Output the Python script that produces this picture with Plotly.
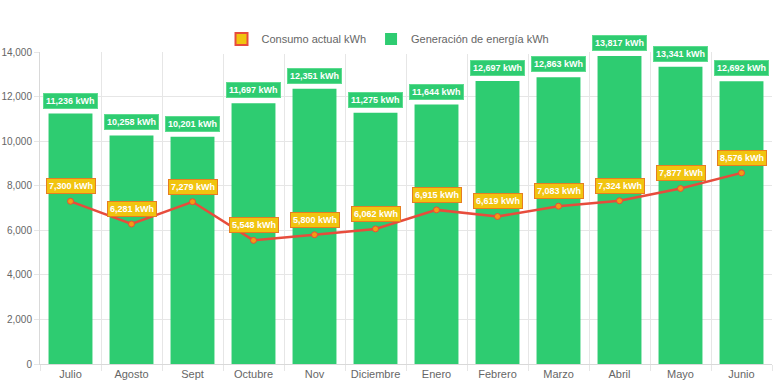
import plotly.graph_objects as go

months = ["Julio", "Agosto", "Sept", "Octubre", "Nov", "Diciembre", "Enero",
          "Febrero", "Marzo", "Abril", "Mayo", "Junio"]
generacion = [11236, 10258, 10201, 11697, 12351, 11275, 11644, 12697, 12863, 13817, 13341, 12692]
consumo = [7300, 6281, 7279, 5548, 5800, 6062, 6915, 6619, 7083, 7324, 7877, 8576]
y_ticks = [0, 2000, 4000, 6000, 8000, 10000, 12000, 14000]

GREEN = "#2ecc71"
YELLOW = "#f1c40f"
RED = "#e74c3c"
FONT = "Liberation Sans, Arial, sans-serif"
LABEL_FONT = "Liberation Sans Narrow, Liberation Sans, Arial, sans-serif"

fig = go.Figure()

# legend-only proxy for consumo box style
fig.add_trace(go.Bar(x=[None], y=[None], name="Consumo actual kWh",
                     marker=dict(color=YELLOW, line=dict(color=RED, width=2)),
                     showlegend=True, hoverinfo="skip"))
fig.add_trace(go.Bar(x=months, y=generacion, name="Generación de energía kWh",
                     marker=dict(color=GREEN, line=dict(color=GREEN, width=0))))
fig.add_trace(go.Scatter(x=months, y=consumo, mode="lines+markers", name="Consumo actual kWh",
                         showlegend=False,
                         line=dict(color=RED, width=2.5),
                         marker=dict(size=6, color="#f39c12", line=dict(color=RED, width=1))))

annotations = []
for m, v in zip(months, generacion):
    annotations.append(dict(x=m, y=v, xref="x", yref="y", text=f"<b>{v:,} kWh</b>",
                            showarrow=False, yanchor="bottom", yshift=5,
                            font=dict(family=LABEL_FONT, size=9, color="white"),
                            bgcolor=GREEN, bordercolor="#5ddc8f", borderwidth=1, borderpad=2))
for m, v in zip(months, consumo):
    annotations.append(dict(x=m, y=v, xref="x", yref="y", text=f"<b>{v:,} kWh</b>",
                            showarrow=False, yanchor="bottom", yshift=7,
                            font=dict(family=LABEL_FONT, size=9, color="white"),
                            bgcolor=YELLOW, bordercolor="#e67e22", borderwidth=1, borderpad=2))

fig.update_layout(
    width=776, height=388, autosize=False,
    margin=dict(l=40, r=4, t=52, b=24, autoexpand=False),
    paper_bgcolor="white", plot_bgcolor="white",
    font=dict(family=FONT, size=11, color="#666666"),
    bargap=0.28, barmode="overlay",
    showlegend=True,
    legend=dict(orientation="h", x=0.5, xanchor="center", xref="container",
                y=1 - 39 / 388, yanchor="middle", yref="container",
                font=dict(size=11, color="#666666"), traceorder="normal",
                itemsizing="constant"),
    annotations=annotations,
    xaxis=dict(type="category", range=[-0.5, len(months) - 0.5], tickson="boundaries",
               showgrid=True, gridcolor="#e6e6e6",
               ticks="outside", ticklen=6, tickcolor="#e6e6e6", showline=True,
               linecolor="#d9d9d9", automargin=False, tickfont=dict(size=11, color="#666666")),
    yaxis=dict(range=[0, 14000], tickvals=y_ticks, tickformat=",", showgrid=True,
               gridcolor="#e6e6e6", ticks="outside", ticklen=5, tickcolor="#e6e6e6",
               showline=True, linecolor="#d9d9d9", zeroline=False, automargin=False,
               tickfont=dict(size=10, color="#666666")),
)

fig.write_html("out.html", config={"displayModeBar": False},
               post_script="document.body.style.margin='0';document.body.style.overflow='hidden';")
